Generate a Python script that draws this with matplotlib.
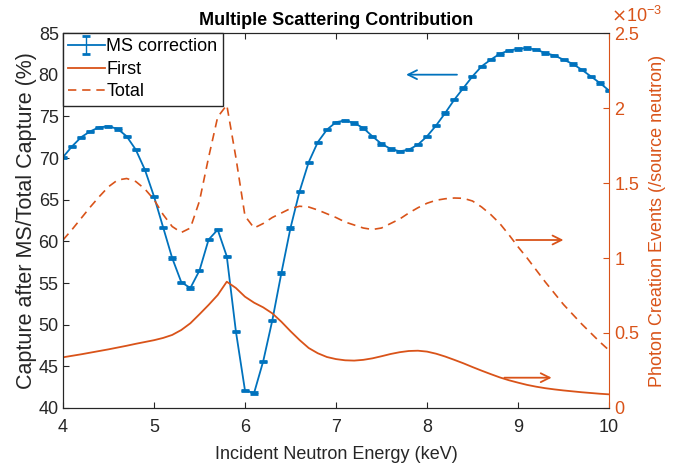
import numpy as np
import matplotlib
matplotlib.use("Agg")
import matplotlib.pyplot as plt
from matplotlib.ticker import FuncFormatter

plt.rcParams['font.family'] = ['Liberation Sans', 'DejaVu Sans']

BLUE = '#0072BD'
ORANGE = '#D95319'
DARK = '#262626'

# Incident neutron energy grid (keV)
energy = np.round(np.arange(4.0, 10.0001, 0.1), 1)

# Capture after MS / total capture (%)
ms_correction = [
    70.1, 71.4, 72.5, 73.2, 73.7, 73.8, 73.5, 72.6, 71.0, 68.6,
    65.4, 61.7, 58.0, 55.1, 54.4, 56.5, 60.2, 61.4, 58.2, 49.2,
    42.1, 41.8, 45.6, 50.5, 56.2, 61.6, 66.0, 69.5, 71.9, 73.4,
    74.3, 74.5, 74.2, 73.6, 72.6, 71.7, 71.1, 70.8, 71.0, 71.6,
    72.6, 73.9, 75.4, 77.0, 78.4, 79.8, 81.0, 81.8, 82.5, 82.9,
    83.1, 83.2, 83.0, 82.6, 82.3, 81.8, 81.3, 80.6, 79.8, 79.0,
    78.1,
]
ms_error = 0.08

# Photon creation events per source neutron (units of 1e-3)
first_e3 = [
    0.338, 0.348, 0.358, 0.369, 0.380, 0.391, 0.403, 0.415, 0.428, 0.440,
    0.452, 0.467, 0.487, 0.520, 0.565, 0.625, 0.687, 0.753, 0.842, 0.800,
    0.742, 0.702, 0.671, 0.631, 0.575, 0.512, 0.453, 0.400, 0.365, 0.340,
    0.326, 0.318, 0.316, 0.321, 0.331, 0.345, 0.360, 0.372, 0.380, 0.382,
    0.376, 0.362, 0.343, 0.321, 0.298, 0.273, 0.249, 0.226, 0.204, 0.185,
    0.169, 0.154, 0.142, 0.132, 0.124, 0.117, 0.111, 0.105, 0.100, 0.095,
    0.091,
]
total_e3 = [
    1.120, 1.190, 1.265, 1.340, 1.410, 1.475, 1.520, 1.530, 1.510, 1.460,
    1.390, 1.290, 1.210, 1.170, 1.200, 1.380, 1.670, 1.940, 2.020, 1.670,
    1.280, 1.200, 1.230, 1.270, 1.300, 1.330, 1.345, 1.340, 1.320, 1.295,
    1.270, 1.240, 1.220, 1.200, 1.190, 1.200, 1.230, 1.260, 1.300, 1.335,
    1.365, 1.385, 1.395, 1.400, 1.398, 1.380, 1.340, 1.290, 1.230, 1.155,
    1.075, 1.000, 0.920, 0.840, 0.765, 0.690, 0.625, 0.560, 0.500, 0.440,
    0.385,
]
first_events = np.array(first_e3) * 1e-3
total_events = np.array(total_e3) * 1e-3

fig = plt.figure(figsize=(6.89, 4.63), dpi=100)
ax = fig.add_axes([0.0914, 0.1188, 0.7925, 0.8099])
ax2 = ax.twinx()

eb = ax.errorbar(energy, ms_correction, yerr=ms_error, color=BLUE, lw=1.3,
                 capsize=2.6, capthick=2.0, elinewidth=1.0,
                 label='MS correction')
l1, = ax2.plot(energy, first_events, color=ORANGE, lw=1.3, label='First')
l2, = ax2.plot(energy, total_events, color=ORANGE, lw=1.2,
               linestyle=(0, (5, 3.5)), label='Total')

ax.set_xlim(4, 10)
ax.set_ylim(40, 85)
ax2.set_ylim(0, 2.5e-3)
ax.set_xticks(range(4, 11))
ax.set_yticks(range(40, 86, 5))
ax2.set_yticks(np.arange(0, 2.51e-3, 0.5e-3))
ax2.yaxis.set_major_formatter(FuncFormatter(lambda v, p: f"{v * 1e3:g}"))

fs = 13
for a in (ax, ax2):
    a.tick_params(direction='in', length=4.5, labelsize=fs)
ax.tick_params(axis='x', top=True, colors=DARK, pad=8)
ax.tick_params(axis='y', colors=DARK, pad=3)
ax2.tick_params(axis='y', colors=ORANGE, pad=4)
for side in ('left', 'bottom', 'top'):
    ax.spines[side].set_color(DARK)
    ax2.spines[side].set_color(DARK)
ax2.spines['right'].set_color(ORANGE)
ax.spines['right'].set_visible(False)

ax.set_xlabel('Incident Neutron Energy (keV)', fontsize=fs, color=DARK,
              labelpad=7)
ax.set_ylabel('Capture after MS/Total Capture (%)', fontsize=15.5,
              color=DARK, labelpad=1)
ax2.set_ylabel('Photon Creation Events (/source neutron)', fontsize=fs,
               color=ORANGE, labelpad=7)
ax.set_title('Multiple Scattering Contribution', fontsize=13,
             fontweight='bold', color='black', pad=6)
ax2.text(1.003, 1.02, r'$\times$10$^{\mathregular{-3}}$',
         transform=ax2.transAxes, color=ORANGE, fontsize=fs,
         ha='left', va='bottom')

# Arrows pointing to the relevant axis
arrow = dict(arrowstyle='->', lw=1.3, mutation_scale=16)
ax.annotate('', xy=(7.74, 80.0), xytext=(8.36, 80.0),
            arrowprops=dict(arrow, color=BLUE))
ax2.annotate('', xy=(9.53, 1.12e-3), xytext=(8.95, 1.12e-3),
             arrowprops=dict(arrow, color=ORANGE))
ax2.annotate('', xy=(9.40, 0.202e-3), xytext=(8.82, 0.202e-3),
             arrowprops=dict(arrow, color=ORANGE))

leg = ax2.legend([eb, l1, l2], ['MS correction', 'First', 'Total'],
                 loc='upper left', bbox_to_anchor=(0, 1), fontsize=fs,
                 frameon=True, fancybox=False, framealpha=1,
                 edgecolor=DARK, borderaxespad=0, handlelength=2.0,
                 handletextpad=0.1, borderpad=0.3, labelspacing=0.3)
leg.get_frame().set_linewidth(1.0)

fig.savefig('out.png', dpi=100)
